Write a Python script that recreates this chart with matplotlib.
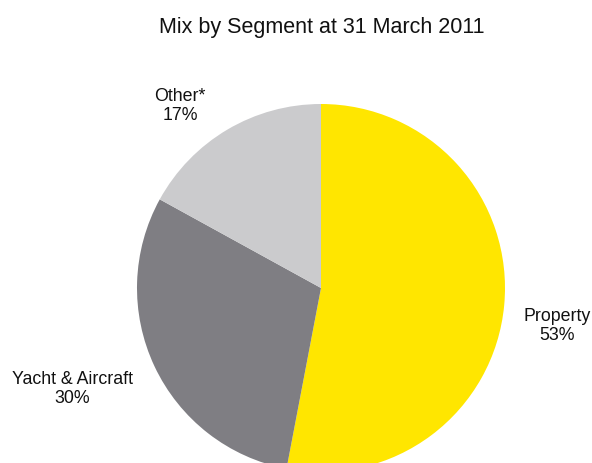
import matplotlib.pyplot as plt
from matplotlib import font_manager

# Datos
segmentos = ["Property", "Yacht & Aircraft", "Other*"]
porcentajes = [53, 30, 17]
colores = ["#FFE600", "#7F7E83", "#CBCBCD"]

nombres = {f.name for f in font_manager.fontManager.ttflist}
fuente = "Liberation Sans Narrow" if "Liberation Sans Narrow" in nombres else "Liberation Sans"
plt.rcParams["font.family"] = [fuente, "DejaVu Sans"]

W, H = 592, 463
fig = plt.figure(figsize=(W / 100, H / 100), dpi=100)

# Pie: centro (321, 288) px, radio 184 px
cx, cy, r = 321, 288, 184
ax = fig.add_axes([(cx - r) / W, (H - cy - r) / H, 2 * r / W, 2 * r / H])
ax.pie(porcentajes, colors=colores, startangle=90, counterclock=False,
       radius=1, wedgeprops={"linewidth": 0})
ax.set_xlim(-1, 1)
ax.set_ylim(-1, 1)
ax.set_aspect("equal")
ax.axis("off")

# Etiquetas (posiciones en px)
pos = [(557, 326), (72, 389), (180, 106)]
for nombre, p, (x, y) in zip(segmentos, porcentajes, pos):
    fig.text(x / W, 1 - y / H, f"{nombre}\n{p}%", ha="center", va="center",
             fontsize=12.8, color="#111111", linespacing=1.15)

fig.text(322 / W, 1 - 28 / H, "Mix by Segment at 31 March 2011", ha="center",
         va="center", fontsize=15.5, color="#111111")

fig.savefig("out.png", dpi=100)
